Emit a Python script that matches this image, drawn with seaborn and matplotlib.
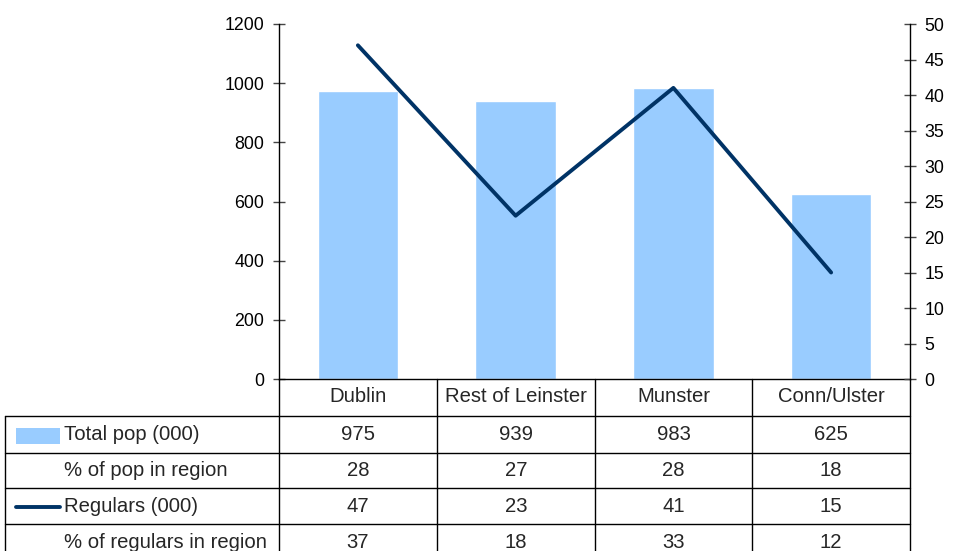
import numpy as np
import pandas as pd
import matplotlib
matplotlib.use("Agg")
import matplotlib.pyplot as plt
import seaborn as sns
from matplotlib.lines import Line2D
from matplotlib.patches import Rectangle

regions = ["Dublin", "Rest of Leinster", "Munster", "Conn/Ulster"]
total_pop = [975, 939, 983, 625]
pct_pop = [28, 27, 28, 18]
regulars = [47, 23, 41, 15]
pct_regulars = [37, 18, 33, 12]
row_labels = ["Total pop (000)", "% of pop in region", "Regulars (000)", "% of regulars in region"]
left_ticks = [0, 200, 400, 600, 800, 1000, 1200]
right_ticks = list(range(0, 55, 5))

BAR_COLOR = "#99CCFF"
LINE_COLOR = "#003366"

sns.set_theme(style="white")
plt.rcParams['font.family'] = ['Liberation Sans', 'DejaVu Sans']

W, H = 956, 551
fig = plt.figure(figsize=(W / 100, H / 100), dpi=100)

L, R, T, B = 279, 910, 24, 379
ax = fig.add_axes([L / W, 1 - B / H, (R - L) / W, (B - T) / H])

df = pd.DataFrame({"region": regions, "pop": total_pop})
sns.barplot(data=df, x="region", y="pop", color=BAR_COLOR, width=0.51,
            saturation=1, ax=ax, order=regions)
ax.set_xlim(-0.5, 3.5)
ax.set_ylim(0, 1200)
ax.set_yticks(left_ticks)
ax.set_xticks([])
ax.set_xlabel("")
ax.set_ylabel("")
for s in ["top", "right"]:
    ax.spines[s].set_visible(False)
for s in ["left", "bottom"]:
    ax.spines[s].set_color("black")
    ax.spines[s].set_linewidth(1)
ax.tick_params(axis="y", direction="inout", length=9, width=1, color="#444444",
               labelsize=12.8, pad=6, labelcolor="black")

ax2 = ax.twinx()
sns.lineplot(x=np.arange(len(regions)), y=regulars, color=LINE_COLOR,
             linewidth=2.8, ax=ax2)
ax2.set_ylim(0, 50)
ax2.set_yticks(right_ticks)
ax2.set_xlim(-0.5, 3.5)
for s in ["top", "left", "bottom"]:
    ax2.spines[s].set_visible(False)
ax2.spines["right"].set_color("black")
ax2.spines["right"].set_linewidth(1)
ax2.tick_params(axis="y", direction="inout", length=9, width=1, color="#444444",
                labelsize=12.8, pad=6, labelcolor="black")

# table overlay in pixel coordinates
ov = fig.add_axes([0, 0, 1, 1], zorder=5)
ov.set_xlim(0, W)
ov.set_ylim(H, 0)
ov.axis("off")
ov.patch.set_alpha(0)

cols = [279, 437, 595, 752, 910]
rows = [379, 416, 453, 488, 524, 560]
lc = "black"
lw = 1
for x in cols:
    ov.add_line(Line2D([x, x], [379, H], color=lc, lw=lw))
ov.add_line(Line2D([5, 5], [416, H], color=lc, lw=lw))
for y in rows[1:5]:
    ov.add_line(Line2D([5, 910], [y, y], color=lc, lw=lw))

fs = 14.6
for i, r in enumerate(regions):
    cx = (cols[i] + cols[i + 1]) / 2
    ov.text(cx, 397, r, ha="center", va="center", fontsize=fs)
table_vals = [total_pop, pct_pop, regulars, pct_regulars]
for j, vals in enumerate(table_vals):
    cy = (rows[j + 1] + rows[j + 2]) / 2
    for i, v in enumerate(vals):
        cx = (cols[i] + cols[i + 1]) / 2
        ov.text(cx, cy, str(v), ha="center", va="center", fontsize=fs)
    ov.text(64, cy, row_labels[j], ha="left", va="center", fontsize=fs)

ov.add_patch(Rectangle((16, 428), 44, 16, color=BAR_COLOR, lw=0))
ov.add_line(Line2D([16, 60], [507, 507], color=LINE_COLOR, lw=2.8,
                   solid_capstyle="round"))

fig.savefig("out.png", dpi=100)
